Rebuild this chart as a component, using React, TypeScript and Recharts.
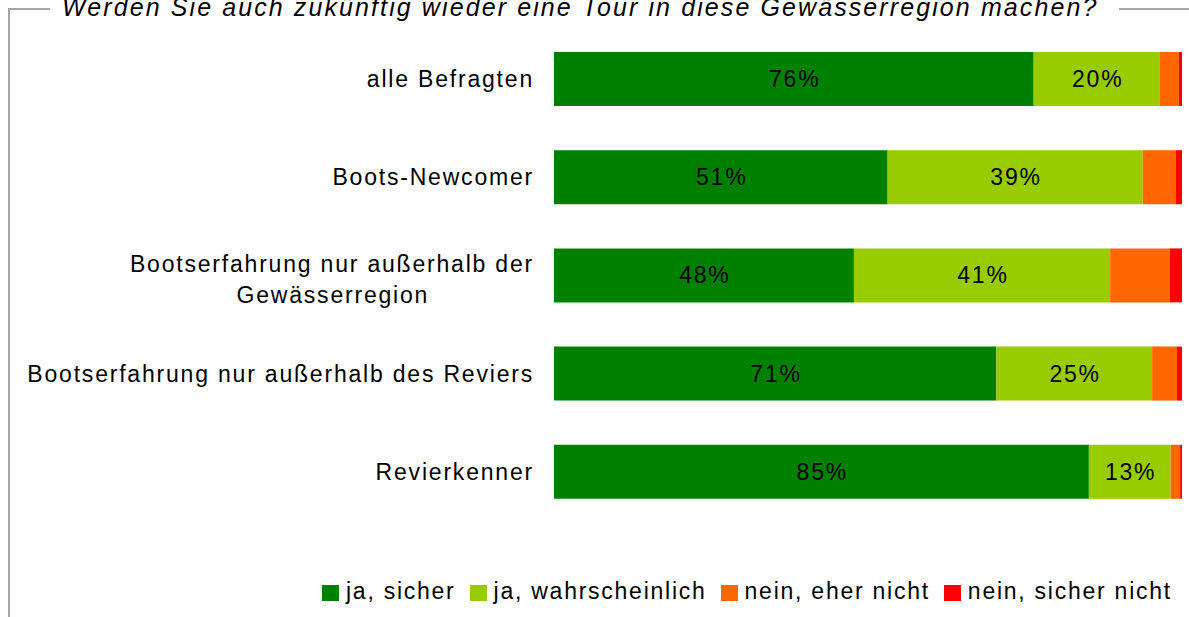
import React from "react";
import { Bar, BarChart, LabelList, XAxis, YAxis } from "recharts";

const categories = [
  "alle Befragten",
  "Boots-Newcomer",
  "Bootserfahrung nur außerhalb der Gewässerregion",
  "Bootserfahrung nur außerhalb des Reviers",
  "Revierkenner",
];
// answer shares in percent (rows do not always add up to 100, bars are scaled to full width)
const jaSicher = [76, 51, 48, 71, 85];
const jaWahrscheinlich = [20, 39, 41, 25, 13];
const neinEherNicht = [3, 5, 9.5, 4, 1.5];
const neinSicherNicht = [0.5, 1, 2, 0.8, 0.3];

const seriesNames = ["ja, sicher", "ja, wahrscheinlich", "nein, eher nicht", "nein, sicher nicht"];
const seriesKeys = ["jaSicher", "jaWahrscheinlich", "neinEherNicht", "neinSicherNicht"];
const seriesColors = ["#008000", "#99CC00", "#FF6600", "#FF0000"];

const title = "Werden Sie auch zukünftig wieder eine Tour in diese Gewässerregion machen?";

const data = categories.map((name, i) => ({
  name,
  jaSicher: jaSicher[i],
  jaWahrscheinlich: jaWahrscheinlich[i],
  neinEherNicht: neinEherNicht[i],
  neinSicherNicht: neinSicherNicht[i],
}));

const FONT = "'Liberation Sans', Arial, sans-serif";
const FONT_SIZE = 23;
const SPACING = 1.8;
const FRAME = "#a6a6a6";

function wrapLabel(text: string, maxChars: number): string[] {
  const words = text.split(/\s+/).filter(Boolean);
  const lines: string[] = [];
  let line = "";
  for (const w of words) {
    const next = line ? `${line} ${w}` : w;
    if (next.length <= maxChars) {
      line = next;
    } else {
      if (line) lines.push(line);
      line = w;
    }
  }
  if (line) lines.push(line);
  return lines;
}

let ctx: CanvasRenderingContext2D | null = null;
function textWidth(text: string) {
  if (!ctx) ctx = document.createElement("canvas").getContext("2d");
  if (!ctx) return text.length * 12;
  ctx.font = `${FONT_SIZE}px ${FONT}`;
  return ctx.measureText(text).width + SPACING * text.length;
}

function CategoryTick(props: { x?: number | string; y?: number | string; payload?: { value?: string } }) {
  const x = Number(props.x ?? 0);
  const y = Number(props.y ?? 0);
  const lines = wrapLabel(String(props.payload?.value ?? ""), 40);
  const right = -20;
  if (lines.length === 1) {
    return (
      <text x={x + right} y={y + 8} textAnchor="end" fill="#000" fontSize={FONT_SIZE} fontFamily={FONT} style={{ letterSpacing: SPACING }}>
        {lines[0]}
      </text>
    );
  }
  const w1 = textWidth(lines[0]);
  const mid = x + right - w1 / 2;
  return (
    <g>
      {lines.map((ln, i) => (
        <text
          key={ln}
          x={i === 0 ? x + right : mid + SPACING / 2}
          y={y - 4 + i * 31.5}
          textAnchor={i === 0 ? "end" : "middle"}
          fill="#000"
          fontSize={FONT_SIZE}
          fontFamily={FONT}
          style={{ letterSpacing: SPACING }}
        >
          {ln}
        </text>
      ))}
    </g>
  );
}

function PercentLabel(props: any) {
  const { x, y, width, height, value } = props;
  return (
    <text
      x={Number(x) + Number(width) / 2 + SPACING / 2}
      y={Number(y) + Number(height) / 2 + 8}
      textAnchor="middle"
      fill="#000"
      fontSize={FONT_SIZE}
      fontFamily={FONT}
      style={{ letterSpacing: SPACING }}
    >
      {`${value}%`}
    </text>
  );
}

export default function App() {
  return (
    <div style={{ position: "absolute", left: 0, top: 0, width: 1189, height: 617, overflow: "hidden", background: "#fff", fontFamily: FONT }}>
      {/* frame with title cut into the top edge */}
      <div style={{ position: "absolute", left: 8, top: 8, width: 1200, height: 700, borderLeft: `2px solid ${FRAME}`, borderTop: `2px solid ${FRAME}` }} />
      <div
        style={{
          position: "absolute",
          left: 50,
          top: -5,
          padding: "0 21px 0 12px",
          background: "#fff",
          fontSize: 25,
          lineHeight: 1,
          fontStyle: "italic",
          letterSpacing: 2.1,
          color: "#000",
          whiteSpace: "nowrap",
        }}
      >
        {title}
      </div>

      <div style={{ position: "absolute", left: 0, top: 0 }}>
        <BarChart
          width={1189}
          height={617}
          data={data}
          layout="vertical"
          stackOffset="expand"
          margin={{ top: 30, right: 7, bottom: 96, left: 0 }}
          barSize={54}
        >
          <XAxis type="number" hide domain={[0, 1]} />
          <YAxis
            type="category"
            dataKey="name"
            width={554}
            axisLine={false}
            tickLine={false}
            tickSize={0}
            tickMargin={0}
            interval={0}
            tick={(p: any) => <CategoryTick {...p} />}
          />
          {seriesKeys.map((k, i) => (
            <Bar key={k} dataKey={k} name={seriesNames[i]} stackId="a" fill={seriesColors[i]} isAnimationActive={false}>
              {i < 2 && <LabelList dataKey={k} content={PercentLabel} />}
            </Bar>
          ))}
        </BarChart>
      </div>

      <div
        style={{
          position: "absolute",
          left: 322,
          top: 580,
          width: 900,
          display: "flex",
          alignItems: "center",
          fontSize: FONT_SIZE,
          lineHeight: 1,
          letterSpacing: 1.75,
          color: "#000",
          whiteSpace: "nowrap",
        }}
      >
        {seriesNames.map((n, i) => (
          <div key={n} style={{ display: "flex", alignItems: "center", marginRight: 14, flexShrink: 0 }}>
            <div style={{ width: 17, height: 16, background: seriesColors[i], marginRight: 7, marginTop: 2, flexShrink: 0 }} />
            <span>{n}</span>
          </div>
        ))}
      </div>
    </div>
  );
}
